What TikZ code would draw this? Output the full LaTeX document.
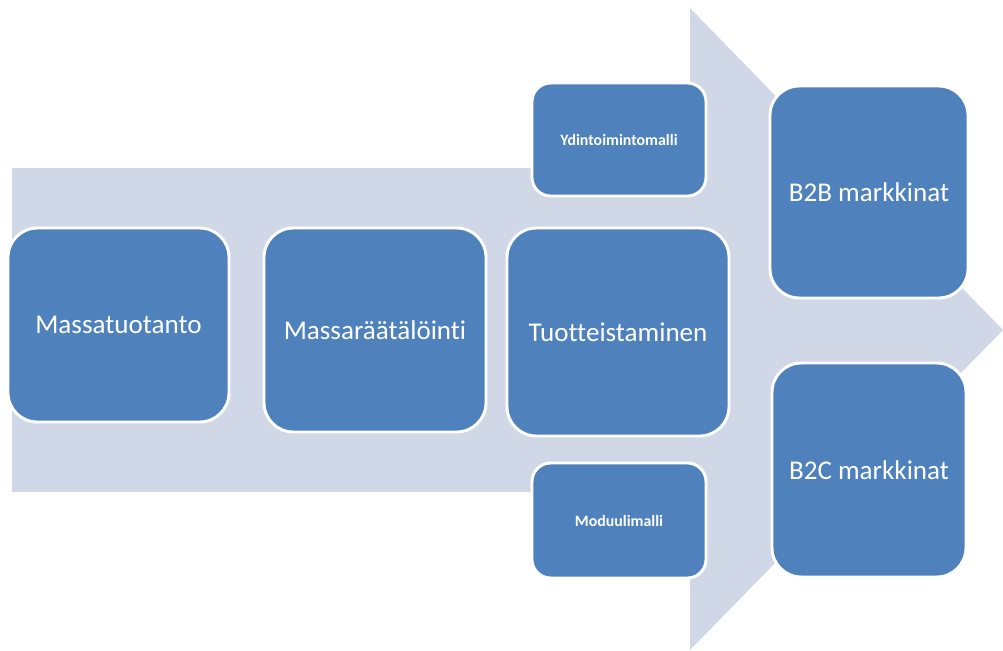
\documentclass[tikz,border=0pt]{standalone}
\usepackage{fontspec}
\setmainfont{Carlito}[Ligatures={NoCommon}]
\usetikzlibrary{fit}
\definecolor{boxblue}{RGB}{79,129,189}
\definecolor{arrowfill}{RGB}{208,216,232}
\begin{document}
\begin{tikzpicture}[x=0.75pt,y=-0.75pt,
  box/.style={draw=white, line width=2.2pt, fill=boxblue, rounded corners=22pt, inner sep=0pt},
  smallbox/.style={box, rounded corners=14pt},
  lbl/.style={text=white, inner sep=0pt, anchor=center, font=\fontsize{20.3}{23}\selectfont},
  smalllbl/.style={lbl, font=\bfseries\fontsize{11.9}{13}\selectfont},
  bigarrow/.style={fill=arrowfill}]
\useasboundingbox (0,0) rectangle (1003,650);
\fill[bigarrow] (12,168) -- (690,168) -- (690,8) -- (1003,330) -- (690,650) -- (690,492) -- (12,492) -- cycle;
\node[box, fit={(8,228)(229,422)}] (mt) {};
\node[box, fit={(264,228)(486,432)}] (mr) {};
\node[box, fit={(507,228)(729,436)}] (tu) {};
\node[smallbox, fit={(532,83)(706,196)}] (yd) {};
\node[smallbox, fit={(532,463)(706,578)}] (mo) {};
\node[box, fit={(770,86)(968,298)}] (b2b) {};
\node[box, fit={(772,363)(966,577)}] (b2c) {};
\node[lbl] (mtl) at (mt.center) {Massatuotanto};
\node[lbl] (mrl) at (mr.center) {Massaräätälöinti};
\node[lbl] (tul) at (tu.center) {Tuotteistaminen};
\node[smalllbl] (ydl) at (yd.center) {Ydintoimintomalli};
\node[smalllbl] (mol) at (mo.center) {Moduulimalli};
\node[lbl] (b2bl) at (b2b.center) {B2B markkinat};
\node[lbl] (b2cl) at (b2c.center) {B2C markkinat};
\end{tikzpicture}
\end{document}
